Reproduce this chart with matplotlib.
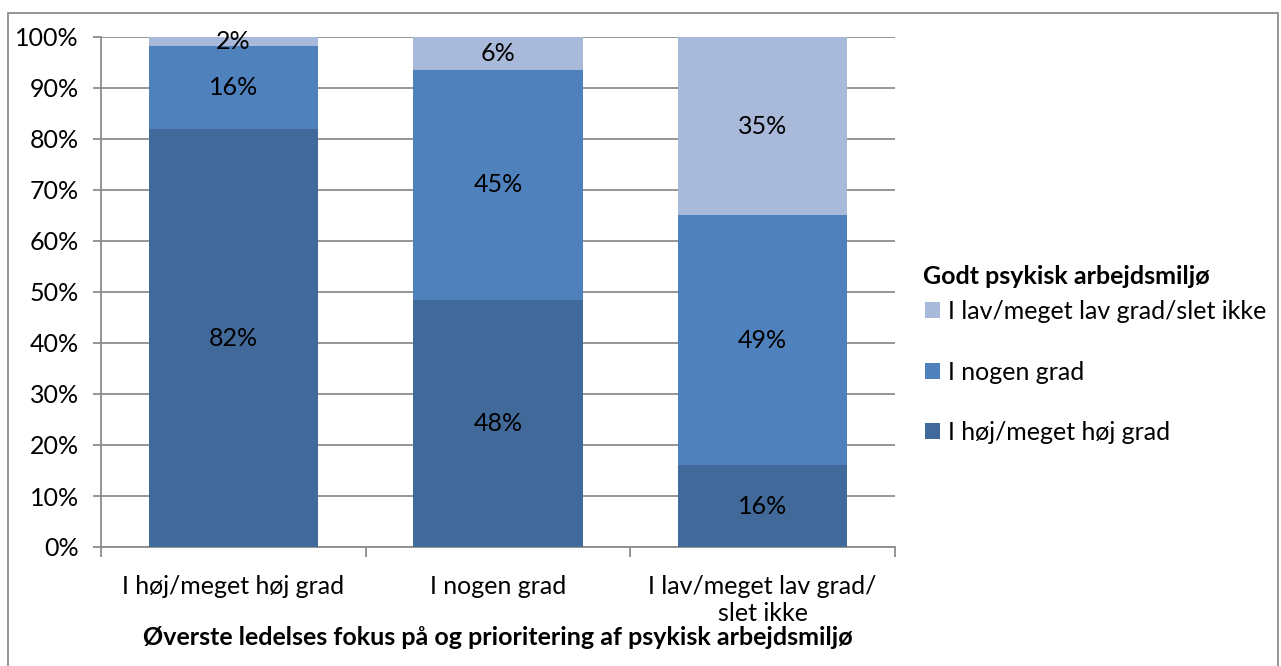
import matplotlib
matplotlib.use("Agg")
import matplotlib.pyplot as plt
from matplotlib.patches import Rectangle
import numpy as np

categories = ["I høj/meget høj grad", "I nogen grad", "I lav/meget lav grad/\nslet ikke"]
series_names = ["I høj/meget høj grad", "I nogen grad", "I lav/meget lav grad/slet ikke"]
high = [81.9, 48.4, 16.0]
some = [16.4, 45.2, 49.0]
low = [1.7, 6.4, 35.0]
labels_high = ["82%", "48%", "16%"]
labels_some = ["16%", "45%", "49%"]
labels_low = ["2%", "6%", "35%"]
yticks = [0, 10, 20, 30, 40, 50, 60, 70, 80, 90, 100]

colors = ["#416A9B", "#4F81BD", "#A9B9D9"]

plt.rcParams['font.family'] = ['Lato', 'DejaVu Sans']
FS = 18

fig = plt.figure(figsize=(12.81, 6.66), dpi=100)
ax = fig.add_axes([101/1281, 1 - 547/666, (895-101)/1281, (547-37)/666])

x = np.arange(len(categories))
w = 0.64
b1 = ax.bar(x, high, w, color=colors[0], label=series_names[0], zorder=3)
b2 = ax.bar(x, some, w, bottom=high, color=colors[1], label=series_names[1], zorder=3)
bottom3 = [h + s for h, s in zip(high, some)]
b3 = ax.bar(x, low, w, bottom=bottom3, color=colors[2], label=series_names[2], zorder=3)

for i in range(len(categories)):
    ax.text(x[i], high[i] / 2, labels_high[i], ha='center', va='center', fontsize=FS, zorder=4)
    ax.text(x[i], high[i] + some[i] / 2, labels_some[i], ha='center', va='center', fontsize=FS, zorder=4)
    yl = bottom3[i] + low[i] / 2
    ax.text(x[i], yl, labels_low[i], ha='center', va='center', fontsize=FS, zorder=4)

ax.set_xlim(-0.5, 2.5)
ax.set_ylim(0, 100)
ax.set_yticks(yticks)
ax.set_yticklabels([f"{t}%" for t in yticks], fontsize=FS)
ax.yaxis.grid(True, color='#8C8C8C', linewidth=1.3, zorder=0)
ax.set_axisbelow(True)
ax.tick_params(axis='y', length=6, color='#8C8C8C', width=1.3, pad=10)
ax.set_xticks([-0.5, 0.5, 1.5, 2.5], minor=False)
ax.set_xticklabels([])
ax.tick_params(axis='x', which='major', length=7, color='#8C8C8C', width=1.3)
ax.set_xticks(x, minor=True)
ax.set_xticklabels(categories, minor=True, fontsize=FS)
ax.tick_params(axis='x', which='minor', length=0, pad=20)
for s in ['top', 'right']:
    ax.spines[s].set_visible(False)
for s in ['left', 'bottom']:
    ax.spines[s].set_color('#8C8C8C')
    ax.spines[s].set_linewidth(1.3)

ax.set_xlabel("Øverste ledelses fokus på og prioritering af psykisk arbejdsmiljø",
              fontsize=FS, fontweight='bold', labelpad=1)

fig.text(923/1281, 1 - 276/666, "Godt psykisk arbejdsmiljø", fontsize=FS,
         fontweight='bold', ha='left', va='center')

handles = [b3, b2, b1]
leg = fig.legend(handles, [series_names[2], series_names[1], series_names[0]],
                 loc='upper left',
                 bbox_to_anchor=(925/1281, 1 - 300/666), frameon=False,
                 fontsize=FS,
                 handlelength=0.6, handleheight=0.6, handletextpad=0.3,
                 labelspacing=1.5, borderaxespad=0, borderpad=0)

fig.add_artist(Rectangle((8/1281, -0.01), (1278-8)/1281, 1 - 13/666 + 0.01,
                         transform=fig.transFigure, fill=False, edgecolor='#8C8C8C', linewidth=1.3))

fig.savefig("out.png", dpi=100)
